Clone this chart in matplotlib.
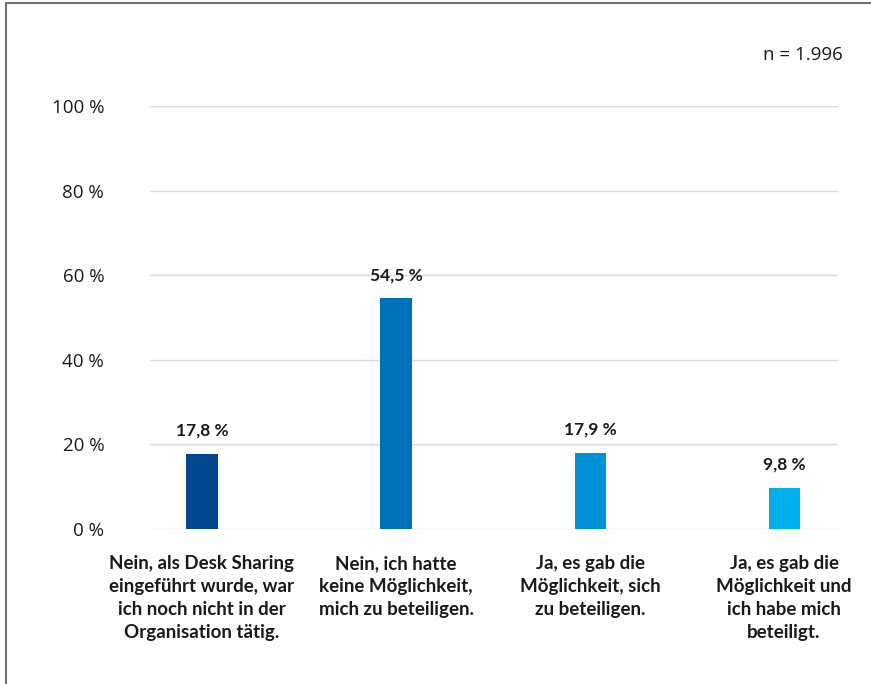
import matplotlib
matplotlib.use("Agg")
import matplotlib.pyplot as plt
from matplotlib.lines import Line2D
from matplotlib.transforms import blended_transform_factory

categories = [
    "Nein, als Desk Sharing\neingeführt wurde, war\nich noch nicht in der\nOrganisation tätig.",
    "Nein, ich hatte\nkeine Möglichkeit,\nmich zu beteiligen.",
    "Ja, es gab die\nMöglichkeit, sich\nzu beteiligen.",
    "Ja, es gab die\nMöglichkeit und\nich habe mich\nbeteiligt.",
]
values = [17.8, 54.5, 17.9, 9.8]
value_labels = ["17,8 %", "54,5 %", "17,9 %", "9,8 %"]
colors = ["#00478f", "#0072bb", "#0092d6", "#00b0ea"]
yticks = [0, 20, 40, 60, 80, 100]
ytick_labels = ["0 %", "20 %", "40 %", "60 %", "80 %", "100 %"]
note = "n = 1.996"

W, H = 871, 684
fig = plt.figure(figsize=(W / 100, H / 100), dpi=100)
ax = fig.add_axes([150 / W, 1 - 529 / H, (838 - 150) / W, (529 - 106) / H])

x = list(range(len(values)))
ax.bar(x, values, width=0.16, color=colors, zorder=3)
ax.set_xlim(-0.268, 3.278)
ax.set_ylim(0, 100)
ax.set_yticks(yticks)
ax.set_yticklabels(ytick_labels, family="Open Sans", fontsize=13.5, color="#1a1a1a")
ax.tick_params(axis="y", length=0, pad=33)
ax.set_xticks([])
for s in ax.spines.values():
    s.set_visible(False)
ax.grid(axis="y", color="#d9d9d9", linewidth=1, zorder=0)

for xi, v, lab in zip(x, values, value_labels):
    ax.annotate(lab, (xi, v), xytext=(0, 11), textcoords="offset points",
                ha="center", va="bottom", fontsize=12.5, fontweight="bold",
                family="Lato", color="#1a1a1a")

trans = blended_transform_factory(ax.transData, ax.transAxes)
for xi, c in zip(x, categories):
    ax.text(xi, -0.062, c, transform=trans, ha="center", va="top",
            fontsize=13.5, fontweight="bold", family="Lato",
            color="#1a1a1a", linespacing=1.42)

fig.text(843 / W, 1 - 55 / H, note, ha="right", va="center",
         family="Open Sans", fontsize=13.5, color="#1a1a1a")

fig.add_artist(Line2D([6 / W, 6 / W, 1], [0, 1 - 3 / H, 1 - 3 / H],
                      transform=fig.transFigure, color="#707070", lw=1.5))

fig.savefig("out.png", dpi=100)
